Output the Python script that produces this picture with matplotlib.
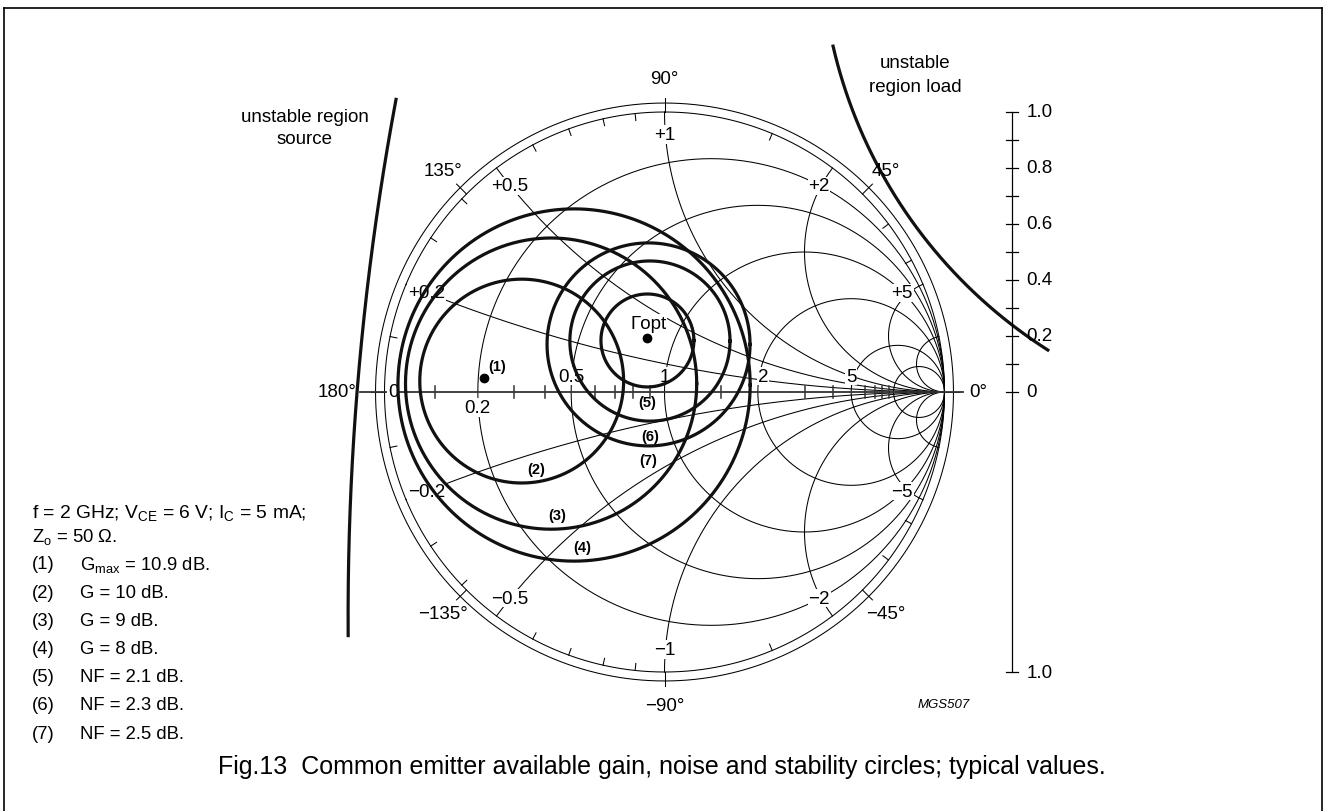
import numpy as np
import matplotlib.pyplot as plt
from matplotlib.lines import Line2D

plt.rcParams['font.family'] = ['Liberation Sans', 'DejaVu Sans']
plt.rcParams['mathtext.fontset'] = 'custom'
plt.rcParams['mathtext.rm'] = 'Liberation Sans'

# ---- data (reflection coefficient plane) ----
r_circles = [0.2, 0.5, 1, 2, 5, 10]          # constant resistance circles
x_arcs = [0.2, 0.5, 1, 2, 5, 10]             # constant reactance arcs (+/-)
r_axis_labels = [0.2, 0.5, 1, 2, 5]
x_rim_labels = [0.2, 0.5, 1, 2, 5]
r_axis_ticks = [0.1, 0.3, 0.4, 0.6, 0.7, 0.8, 0.9, 1.5, 3, 4, 6, 7, 8, 9]
x_rim_ticks = [0.1, 0.3, 0.4, 0.6, 0.7, 0.8, 0.9, 1.5, 3, 4]
angles = [0, 45, 90, 135, 180, -45, -90, -135]

gain_names = ['(2)', '(3)', '(4)']
gain_cx = [-0.51, -0.405, -0.323]
gain_cy = [0.039, 0.030, 0.025]
gain_r = [0.364, 0.520, 0.629]

nf_names = ['(5)', '(6)', '(7)']
nf_cx = [-0.061, -0.052, -0.057]
nf_cy = [0.184, 0.182, 0.170]
nf_r = [0.166, 0.286, 0.3625]

gmax_pt = (-0.645, 0.05)
gopt_pt = (-0.0625, 0.193)

# stability circles: centre, radius, visible arc (deg)
src_c, src_r, src_span = (8.9, -0.8), 10.03, (169.4, 180.4)
load_c, load_r, load_span = (2.312, 1.63), 1.755, (-167.0, -122.5)

scale_ticks = np.round(np.arange(0, 1.01, 0.1), 1)
scale_labels = ['0', '0.2', '0.4', '0.6', '0.8', '1.0']

legend_lines = ['f = 2 GHz; V$\\mathregular{_{CE}}$ = 6 V; I$\\mathregular{_C}$ = 5 mA;',
                'Z$\\mathregular{_o}$ = 50 \u03a9.']
legend_items = [('(1)', 'G$\\mathregular{_{max}}$ = 10.9 dB.'), ('(2)', 'G = 10 dB.'),
                ('(3)', 'G = 9 dB.'), ('(4)', 'G = 8 dB.'), ('(5)', 'NF = 2.1 dB.'),
                ('(6)', 'NF = 2.3 dB.'), ('(7)', 'NF = 2.5 dB.')]

# ---- figure: 1 unit of Gamma = 280 px, chart centre at (664.5, 393) px ----
W, H = 1327, 812
fig = plt.figure(figsize=(W / 100, H / 100), dpi=100)
ax = fig.add_axes([0, 0, 1, 1])
ax.set_xlim(-664.5 / 280, (W - 664.5) / 280)
ax.set_ylim(-(H - 393) / 280, 393 / 280)
ax.axis('off')

FS = 13.5
thin = dict(color='black', lw=0.75, zorder=1)
thick = dict(color='#111111', lw=2.3, zorder=5)
lbl = dict(ha='center', va='center', fontsize=FS, zorder=4,
           bbox=dict(fc='white', ec='none', pad=0.6))


def gamma(z):
    return (z - 1) / (z + 1)


def fx(x, y):
    return x / W, 1 - y / H


# outer rings
t = np.linspace(0, 2 * np.pi, 721)
ax.plot(np.cos(t), np.sin(t), **thin)
ax.plot(1.032 * np.cos(t), 1.032 * np.sin(t), **thin)

# resistance circles
for r in r_circles:
    ax.plot(r / (1 + r) + np.cos(t) / (1 + r), np.sin(t) / (1 + r), **thin)

# reactance arcs
rr = np.tan(np.linspace(0, np.pi / 2 * 0.9995, 600))
for x in x_arcs:
    for s in (1, -1):
        g = gamma(rr + 1j * s * x)
        ax.plot(g.real, g.imag, **thin)

# real axis
ax.plot([-1.0875, 1.066], [0, 0], color='#333333', lw=1.3, zorder=2)
for r in r_axis_ticks:
    g = (r - 1) / (r + 1)
    ax.plot([g, g], [-0.02, 0.02], color='#333333', lw=1.1, zorder=2)

# rim ticks
for x in x_rim_ticks:
    for s in (1, -1):
        g = gamma(1j * s * x)
        ax.plot([g.real, 0.975 * g.real], [g.imag, 0.975 * g.imag], **thin)
for a in angles:
    c, sn = np.cos(np.radians(a)), np.sin(np.radians(a))
    ax.plot([1.0 * c, 1.05 * c], [1.0 * sn, 1.05 * sn], **thin)

# resistance labels
ax.text(-0.968, 0, '0', **lbl)
for r in r_axis_labels:
    g = (r - 1) / (r + 1)
    dy = -0.055 if r == 0.2 else 0.057
    ax.text(g + (0.02 if r == 2 else 0), dy, str(r), **lbl)

# reactance labels
for x in x_rim_labels:
    for s, sign in ((1, '+'), (-1, '\u2212')):
        g = 0.92 * gamma(1j * s * x)
        ax.text(g.real, g.imag, sign + str(x), **lbl)

# angle labels
for a in angles:
    rad = 1.17 if a == 180 else 1.12
    txt = ('\u2212' if a < 0 else '') + str(abs(a)) + '\u00b0'
    ax.text(rad * np.cos(np.radians(a)), rad * np.sin(np.radians(a)), txt,
            ha='center', va='center', fontsize=FS, zorder=4)

# gain circles
for name, cx, cy, r, dx in zip(gain_names, gain_cx, gain_cy, gain_r, [0.05, 0.02, 0.03]):
    ax.plot(cx + r * np.cos(t), cy + r * np.sin(t), **thick)
    ax.text(cx + dx, cy - r + 0.05, name, ha='center', va='center', fontsize=10.5,
            fontweight='bold', zorder=7)

# noise circles
for name, cx, cy, r in zip(nf_names, nf_cx, nf_cy, nf_r):
    ax.plot(cx + r * np.cos(t), cy + r * np.sin(t), **thick)
    ax.text(cx, cy - r - 0.052, name, ha='center', va='center', fontsize=10.5,
            fontweight='bold', zorder=7)

# points
ax.plot(*gmax_pt, 'o', color='black', ms=6, zorder=8)
ax.text(gmax_pt[0] + 0.047, gmax_pt[1] + 0.043, '(1)', ha='center', va='center',
        fontsize=10.5, fontweight='bold', zorder=7)
ax.plot(*gopt_pt, 'o', color='black', ms=6, zorder=8)
ax.text(gopt_pt[0] + 0.005, gopt_pt[1] + 0.053, '\u0393opt', ha='center', va='center',
        fontsize=FS, zorder=4, bbox=dict(fc='white', ec='none', pad=0.3))

# stability circles
a = np.radians(np.linspace(*src_span, 200))
ax.plot(src_c[0] + src_r * np.cos(a), src_c[1] + src_r * np.sin(a), color='#111111', lw=2.3)
a = np.radians(np.linspace(*load_span, 200))
ax.plot(load_c[0] + load_r * np.cos(a), load_c[1] + load_r * np.sin(a), color='#111111', lw=2.3)

# |Gamma| scale on the right
sx = 1.241
ax.plot([sx, sx], [-1, 1], color='black', lw=0.9)
for v in scale_ticks:
    ax.plot([sx - 0.022, sx + 0.022], [v, v], color='black', lw=0.9)
ax.plot([sx - 0.022, sx + 0.022], [-1, -1], color='black', lw=0.9)
for i, s in enumerate(scale_labels):
    ax.text(sx + 0.052, 0.2 * i, s, ha='left', va='center', fontsize=FS)
ax.text(sx + 0.052, -1, '1.0', ha='left', va='center', fontsize=FS)

# free text
fig.text(*fx(305, 117), 'unstable region', ha='center', va='center', fontsize=FS)
fig.text(*fx(305, 140), 'source', ha='center', va='center', fontsize=FS)
fig.text(*fx(915, 63), 'unstable', ha='center', va='center', fontsize=FS)
fig.text(*fx(915, 87), 'region load', ha='center', va='center', fontsize=FS)
fig.text(*fx(944, 705), 'MGS507', ha='center', va='center', fontsize=9.5, style='italic')

LS = 13.3
y0 = 513
fig.text(*fx(32, y0), legend_lines[0], ha='left', va='center', fontsize=13.9)
fig.text(*fx(32, y0 + 24), legend_lines[1], ha='left', va='center', fontsize=LS)
for i, (n, s) in enumerate(legend_items):
    fig.text(*fx(32, 565 + 28.2 * i), n, ha='left', va='center', fontsize=LS)
    fig.text(*fx(80, 565 + 28.2 * i), s, ha='left', va='center', fontsize=LS)

fig.text(*fx(662, 767), 'Fig.13  Common emitter available gain, noise and stability circles; typical values.',
         ha='center', va='center', fontsize=18)

# page frame
for xs, ys in [((4, 4), (9, 812)), ((1322, 1322), (9, 812)), ((4, 1322), (9, 9))]:
    fig.add_artist(Line2D([v / W for v in xs], [1 - v / H for v in ys], color='black', lw=1.2))

fig.savefig('out.png', dpi=100)
